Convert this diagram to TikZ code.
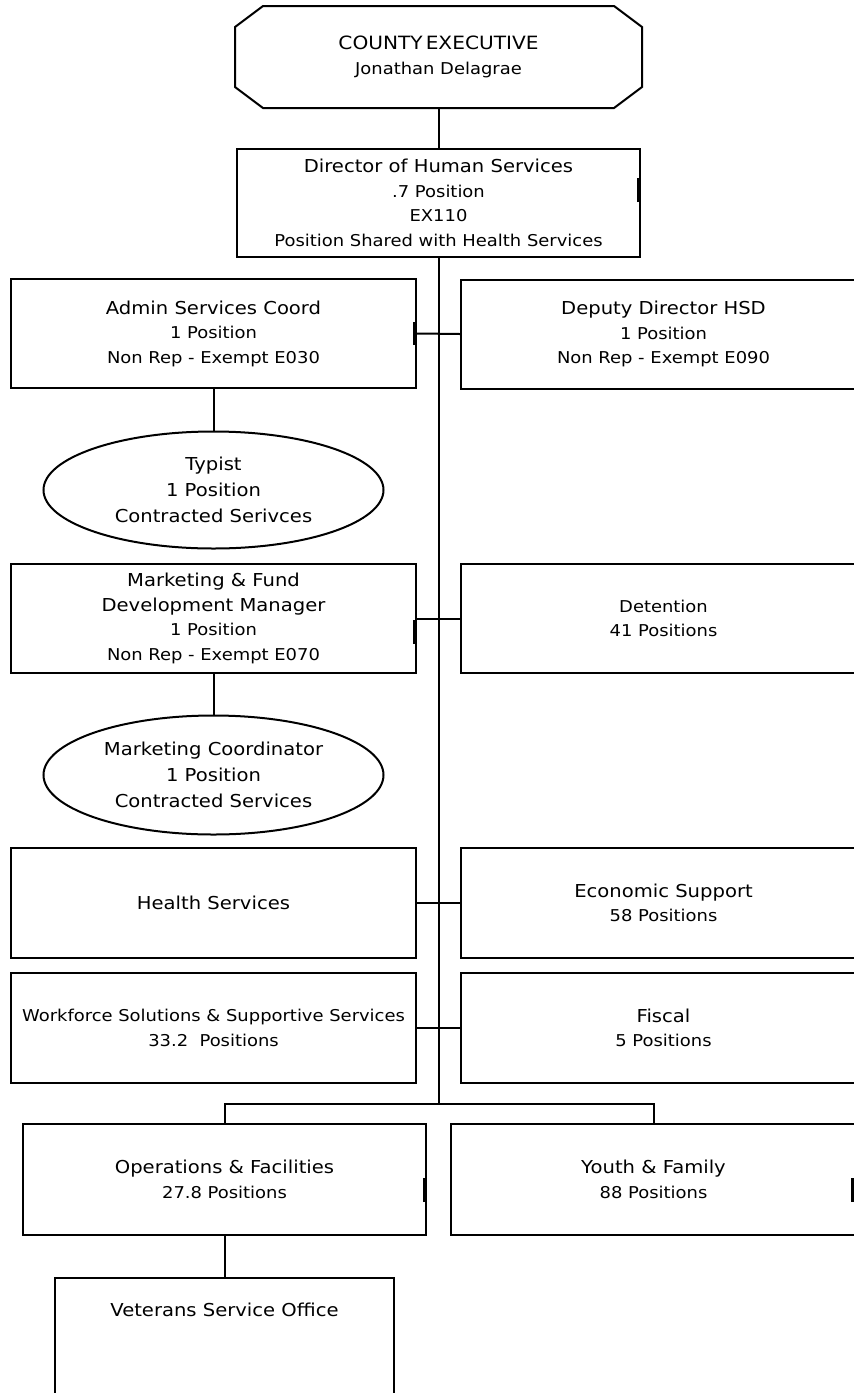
\documentclass[tikz,border=0pt]{standalone}
\usepackage{fontspec}
\setmainfont{DejaVu Sans}[FakeStretch=1.1]
\usetikzlibrary{shapes.geometric}

% first (heading) line of a unit
\newcommand\boxtitle[1]{{\fontsize{17.8}{24.5}\selectfont #1}}

\begin{document}
\begin{tikzpicture}[x=1pt,y=-1pt,
  line width=2pt,
  every node/.style={align=center, inner sep=0pt,
    font=\fontsize{16.3}{24.5}\selectfont},
  unit/.style={draw, rectangle, minimum width=405pt, minimum height=109pt},
  oval/.style={draw, ellipse, minimum width=340pt, minimum height=117pt,
    font=\fontsize{17.8}{26}\selectfont},
  notch/.style={line width=3.5pt, line cap=butt}]

\fill[white] (0,0) rectangle (854,1393);
\path[use as bounding box] (0,0) rectangle (854,1393);
\clip (0,0) rectangle (854,1393);

% ---- top of the chart ----
\node[minimum width=405pt, minimum height=100pt] (exec) at (438.5,57)
  {{\fontsize{18.3}{26}\selectfont COUNTY\kern3pt EXECUTIVE}\\Jonathan Delagrae};
\draw ([xshift=28pt]exec.north west) -- ([xshift=-28pt]exec.north east)
  -- ([yshift=-21pt]exec.north east) -- ([yshift=21pt]exec.south east)
  -- ([xshift=-28pt]exec.south east) -- ([xshift=28pt]exec.south west)
  -- ([yshift=21pt]exec.south west) -- ([yshift=-21pt]exec.north west) -- cycle;

\node[unit, minimum width=403pt, minimum height=108pt] (director) at (438.5,203)
  {\boxtitle{Director of Human Services}\\.7 Position\\EX110\\Position Shared with Health Services};

% ---- left column ----
\node[unit] (admin) at (213.5,333.5)
  {\boxtitle{Admin Services Coord}\\1 Position\\Non Rep - Exempt E030};
\node[oval] (typist) at (213.5,490)
  {Typist\\1 Position\\Contracted Serivces};
\node[unit] (mktg) at (213.5,618.5)
  {\boxtitle{Marketing \& Fund}\\\boxtitle{Development Manager}\\1 Position\\Non Rep - Exempt E070};
\node[oval, minimum height=119pt] (mcoord) at (213.5,775)
  {Marketing Coordinator\\1 Position\\Contracted Services};
\node[unit, minimum height=110pt] (health) at (213.5,903)
  {\boxtitle{Health Services}};
\node[unit, minimum height=110pt] (workforce) at (213.5,1028)
  {Workforce Solutions \& Supportive Services\\33.2\ \ Positions};

% ---- right column ----
\node[unit] (deputy) at (663.5,334)
  {\boxtitle{Deputy Director HSD}\\1 Position\\Non Rep - Exempt E090};
\node[unit] (detention) at (663.5,618.5)
  {Detention\\41 Positions};
\node[unit, minimum height=110pt] (econ) at (663.5,903)
  {\boxtitle{Economic Support}\\58 Positions};
\node[unit, minimum height=110pt] (fiscal) at (663.5,1028)
  {\boxtitle{Fiscal}\\5 Positions};

% ---- bottom row ----
\node[unit, minimum width=403pt, minimum height=111pt] (ops) at (224.5,1179.5)
  {\boxtitle{Operations \& Facilities}\\27.8 Positions};
\node[unit, minimum width=406pt, minimum height=111pt] (youth) at (653.5,1179.5)
  {\boxtitle{Youth \& Family}\\88 Positions};
\node[unit, minimum width=339pt, minimum height=150pt, anchor=north] (vet) at (224.5,1277) {};
\node (vettext) at ([yshift=-33pt]vet.north) {\boxtitle{Veterans Service Office}};

% ---- connectors ----
\coordinate (split) at (438.5,1104);
\draw (exec.south) -- (director.north);
\draw (director.south) -- (split);
\draw (admin.east) -- (deputy.west);
\draw (mktg.east) -- (detention.west);
\draw (health.east) -- (econ.west);
\draw (workforce.east) -- (fiscal.west);
\draw (admin.south) -- (typist.north);
\draw (mktg.south) -- (mcoord.north);
\draw (ops.north) |- (split) -| (youth.north);
\draw (ops.south) -- (vet.north);

% ---- short heavy strokes on the right edges ----
\draw[notch] ([xshift=-2pt,yshift=1pt]director.east) -- ([xshift=-2pt,yshift=25pt]director.east);
\draw[notch] ([xshift=-2.5pt,yshift=11.5pt]admin.east) -- ([xshift=-2.5pt,yshift=-11.5pt]admin.east);
\draw[notch] ([xshift=-2.5pt,yshift=-1.5pt]mktg.east) -- ([xshift=-2.5pt,yshift=-25.5pt]mktg.east);
\draw[notch] ([xshift=-2pt,yshift=1.5pt]ops.east) -- ([xshift=-2pt,yshift=-22pt]ops.east);
\draw[notch] ([xshift=-4.5pt,yshift=1.5pt]youth.east) -- ([xshift=-4.5pt,yshift=-22pt]youth.east);
\end{tikzpicture}
\end{document}
